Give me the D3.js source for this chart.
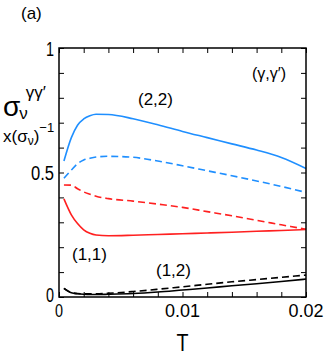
<!DOCTYPE html>
<html>
<head>
<meta charset="utf-8">
<script src="https://cdn.jsdelivr.net/npm/d3@7"></script>
<style>
  body { margin: 0; background: #fff; }
  svg text { font-family: "Liberation Sans", Arial, sans-serif; }
</style>
</head>
<body>
<div id="chart"></div>
<script>
// temperature grid shared by every curve
const T = [0.0004, 0.001, 0.0015, 0.002, 0.0025, 0.003, 0.004, 0.006, 0.008, 0.01, 0.012, 0.014, 0.016, 0.018, 0.02];

// (2,2) blue, (1,1) red, (1,2) black; dashed = normalised variant
const blueSolid  = [0.546, 0.64, 0.69, 0.715, 0.728, 0.734, 0.733, 0.716, 0.692, 0.665, 0.64, 0.615, 0.59, 0.56, 0.516];
const blueDashed = [0.477, 0.51, 0.535, 0.55, 0.557, 0.562, 0.565, 0.561, 0.546, 0.527, 0.507, 0.487, 0.466, 0.444, 0.42];
const redDashed  = [0.45, 0.449, 0.435, 0.422, 0.413, 0.405, 0.395, 0.385, 0.373, 0.36, 0.343, 0.326, 0.308, 0.29, 0.272];
const redSolid   = [0.394, 0.33, 0.295, 0.27, 0.256, 0.249, 0.246, 0.248, 0.251, 0.254, 0.257, 0.26, 0.264, 0.267, 0.271];
const blackSolid = [0.035, 0.017, 0.013, 0.011, 0.01, 0.01, 0.011, 0.014, 0.02, 0.028, 0.036, 0.045, 0.053, 0.062, 0.072];
const blackDashed= [0.035, 0.018, 0.014, 0.013, 0.013, 0.013, 0.015, 0.022, 0.031, 0.041, 0.051, 0.061, 0.07, 0.079, 0.088];

const xTicks = ["0", "0.01", "0.02"];
const yTicks = ["0", "0.5", "1"];

const series = [
  { v: blueSolid,   color: "#1f8fff", dash: null },
  { v: blueDashed,  color: "#1f8fff", dash: "7,4" },
  { v: redDashed,   color: "#ff2020", dash: "7,4" },
  { v: redSolid,    color: "#ff2020", dash: null },
  { v: blackDashed, color: "#000",    dash: "7,4" },
  { v: blackSolid,  color: "#000",    dash: null }
];

const W = 327, H = 361;
const m = { left: 59, right: 21, top: 48, bottom: 64 };

const svg = d3.select("#chart").append("svg")
  .attr("width", W).attr("height", H);

const x = d3.scaleLinear().domain([0, 0.02]).range([m.left, W - m.right]);
const y = d3.scaleLinear().domain([0, 1]).range([H - m.bottom, m.top]);

// curves
const line = d3.line().x((d, i) => x(T[i])).y(d => y(d)).curve(d3.curveMonotoneX);
svg.append("g").selectAll("path")
  .data(series)
  .enter().append("path")
  .attr("d", d => line(d.v))
  .attr("fill", "none")
  .attr("stroke", d => d.color)
  .attr("stroke-width", 1.6)
  .attr("stroke-dasharray", d => d.dash);

// frame with inward ticks on all four sides
const minorX = d3.range(0, 0.0201, 0.002);
const minorY = d3.range(0, 1.001, 0.1);
const axStyle = g => {
  g.select(".domain").remove();
  g.selectAll("line").attr("stroke", "#000");
};

svg.append("g").attr("transform", `translate(0,${y(0)})`)
  .call(d3.axisBottom(x).tickValues(minorX).tickSize(-5).tickFormat(""))
  .call(axStyle);
svg.append("g").attr("transform", `translate(0,${y(1)})`)
  .call(d3.axisTop(x).tickValues(minorX).tickSize(-5).tickFormat(""))
  .call(axStyle);
svg.append("g").attr("transform", `translate(${x(0)},0)`)
  .call(d3.axisLeft(y).tickValues(minorY).tickSize(-5).tickFormat(""))
  .call(axStyle);
svg.append("g").attr("transform", `translate(${x(0.02)},0)`)
  .call(d3.axisRight(y).tickValues(minorY).tickSize(-5).tickFormat(""))
  .call(axStyle);

svg.append("rect")
  .attr("x", x(0)).attr("y", y(1))
  .attr("width", x(0.02) - x(0)).attr("height", y(0) - y(1))
  .attr("fill", "none").attr("stroke", "#000").attr("stroke-width", 1.5);

// tick labels (the original face is a bit narrow, hence textLength)
svg.append("g").selectAll("text")
  .data(xTicks).enter().append("text")
  .attr("x", d => x(+d)).attr("y", y(0) + 20)
  .attr("text-anchor", "middle").attr("font-size", 18)
  .attr("textLength", d => d.length > 1 ? 35 : 8)
  .attr("lengthAdjust", "spacingAndGlyphs")
  .text(d => d);
svg.append("g").selectAll("text")
  .data(yTicks).enter().append("text")
  .attr("x", x(0) - 5).attr("y", d => y(+d) + (+d === 0 ? 5 : 7.5))
  .attr("text-anchor", "end").attr("font-size", 20)
  .attr("textLength", d => d.length > 1 ? 23 : 8)
  .attr("lengthAdjust", "spacingAndGlyphs")
  .text(d => d);

// axis titles
svg.append("text").attr("x", x(0.01)).attr("y", 351)
  .attr("text-anchor", "middle").attr("font-size", 24)
  .attr("textLength", 12).attr("lengthAdjust", "spacingAndGlyphs")
  .text("T");

const yl = svg.append("text").attr("x", 3).attr("y", 116).attr("font-size", 28);
yl.append("tspan").text("σ");
yl.append("tspan").attr("font-size", 17).attr("dy", 3).attr("dx", -1).text("ν");
yl.append("tspan").attr("font-size", 17).attr("dy", -21).attr("dx", -2).text("γγ′");

const yl2 = svg.append("text").attr("x", 3).attr("y", 142).attr("font-size", 17);
yl2.append("tspan").text("x(σ");
yl2.append("tspan").attr("font-size", 12).attr("dy", 3).text("ν");
yl2.append("tspan").attr("dy", -3).text(")");
yl2.append("tspan").attr("font-size", 13).attr("dy", -10).text("−1");

// annotations
svg.append("text").attr("x", 21).attr("y", 19).attr("font-size", 17).text("(a)");
svg.append("text").attr("x", 252).attr("y", 79).attr("font-size", 16).text("(γ,γ′)");
const notes = [["(2,2)", 138, 105], ["(1,1)", 72, 260], ["(1,2)", 156, 276]];
svg.append("g").selectAll("text").data(notes).enter().append("text")
  .attr("x", d => d[1]).attr("y", d => d[2])
  .attr("font-size", 17).text(d => d[0]);
</script>
</body>
</html>
